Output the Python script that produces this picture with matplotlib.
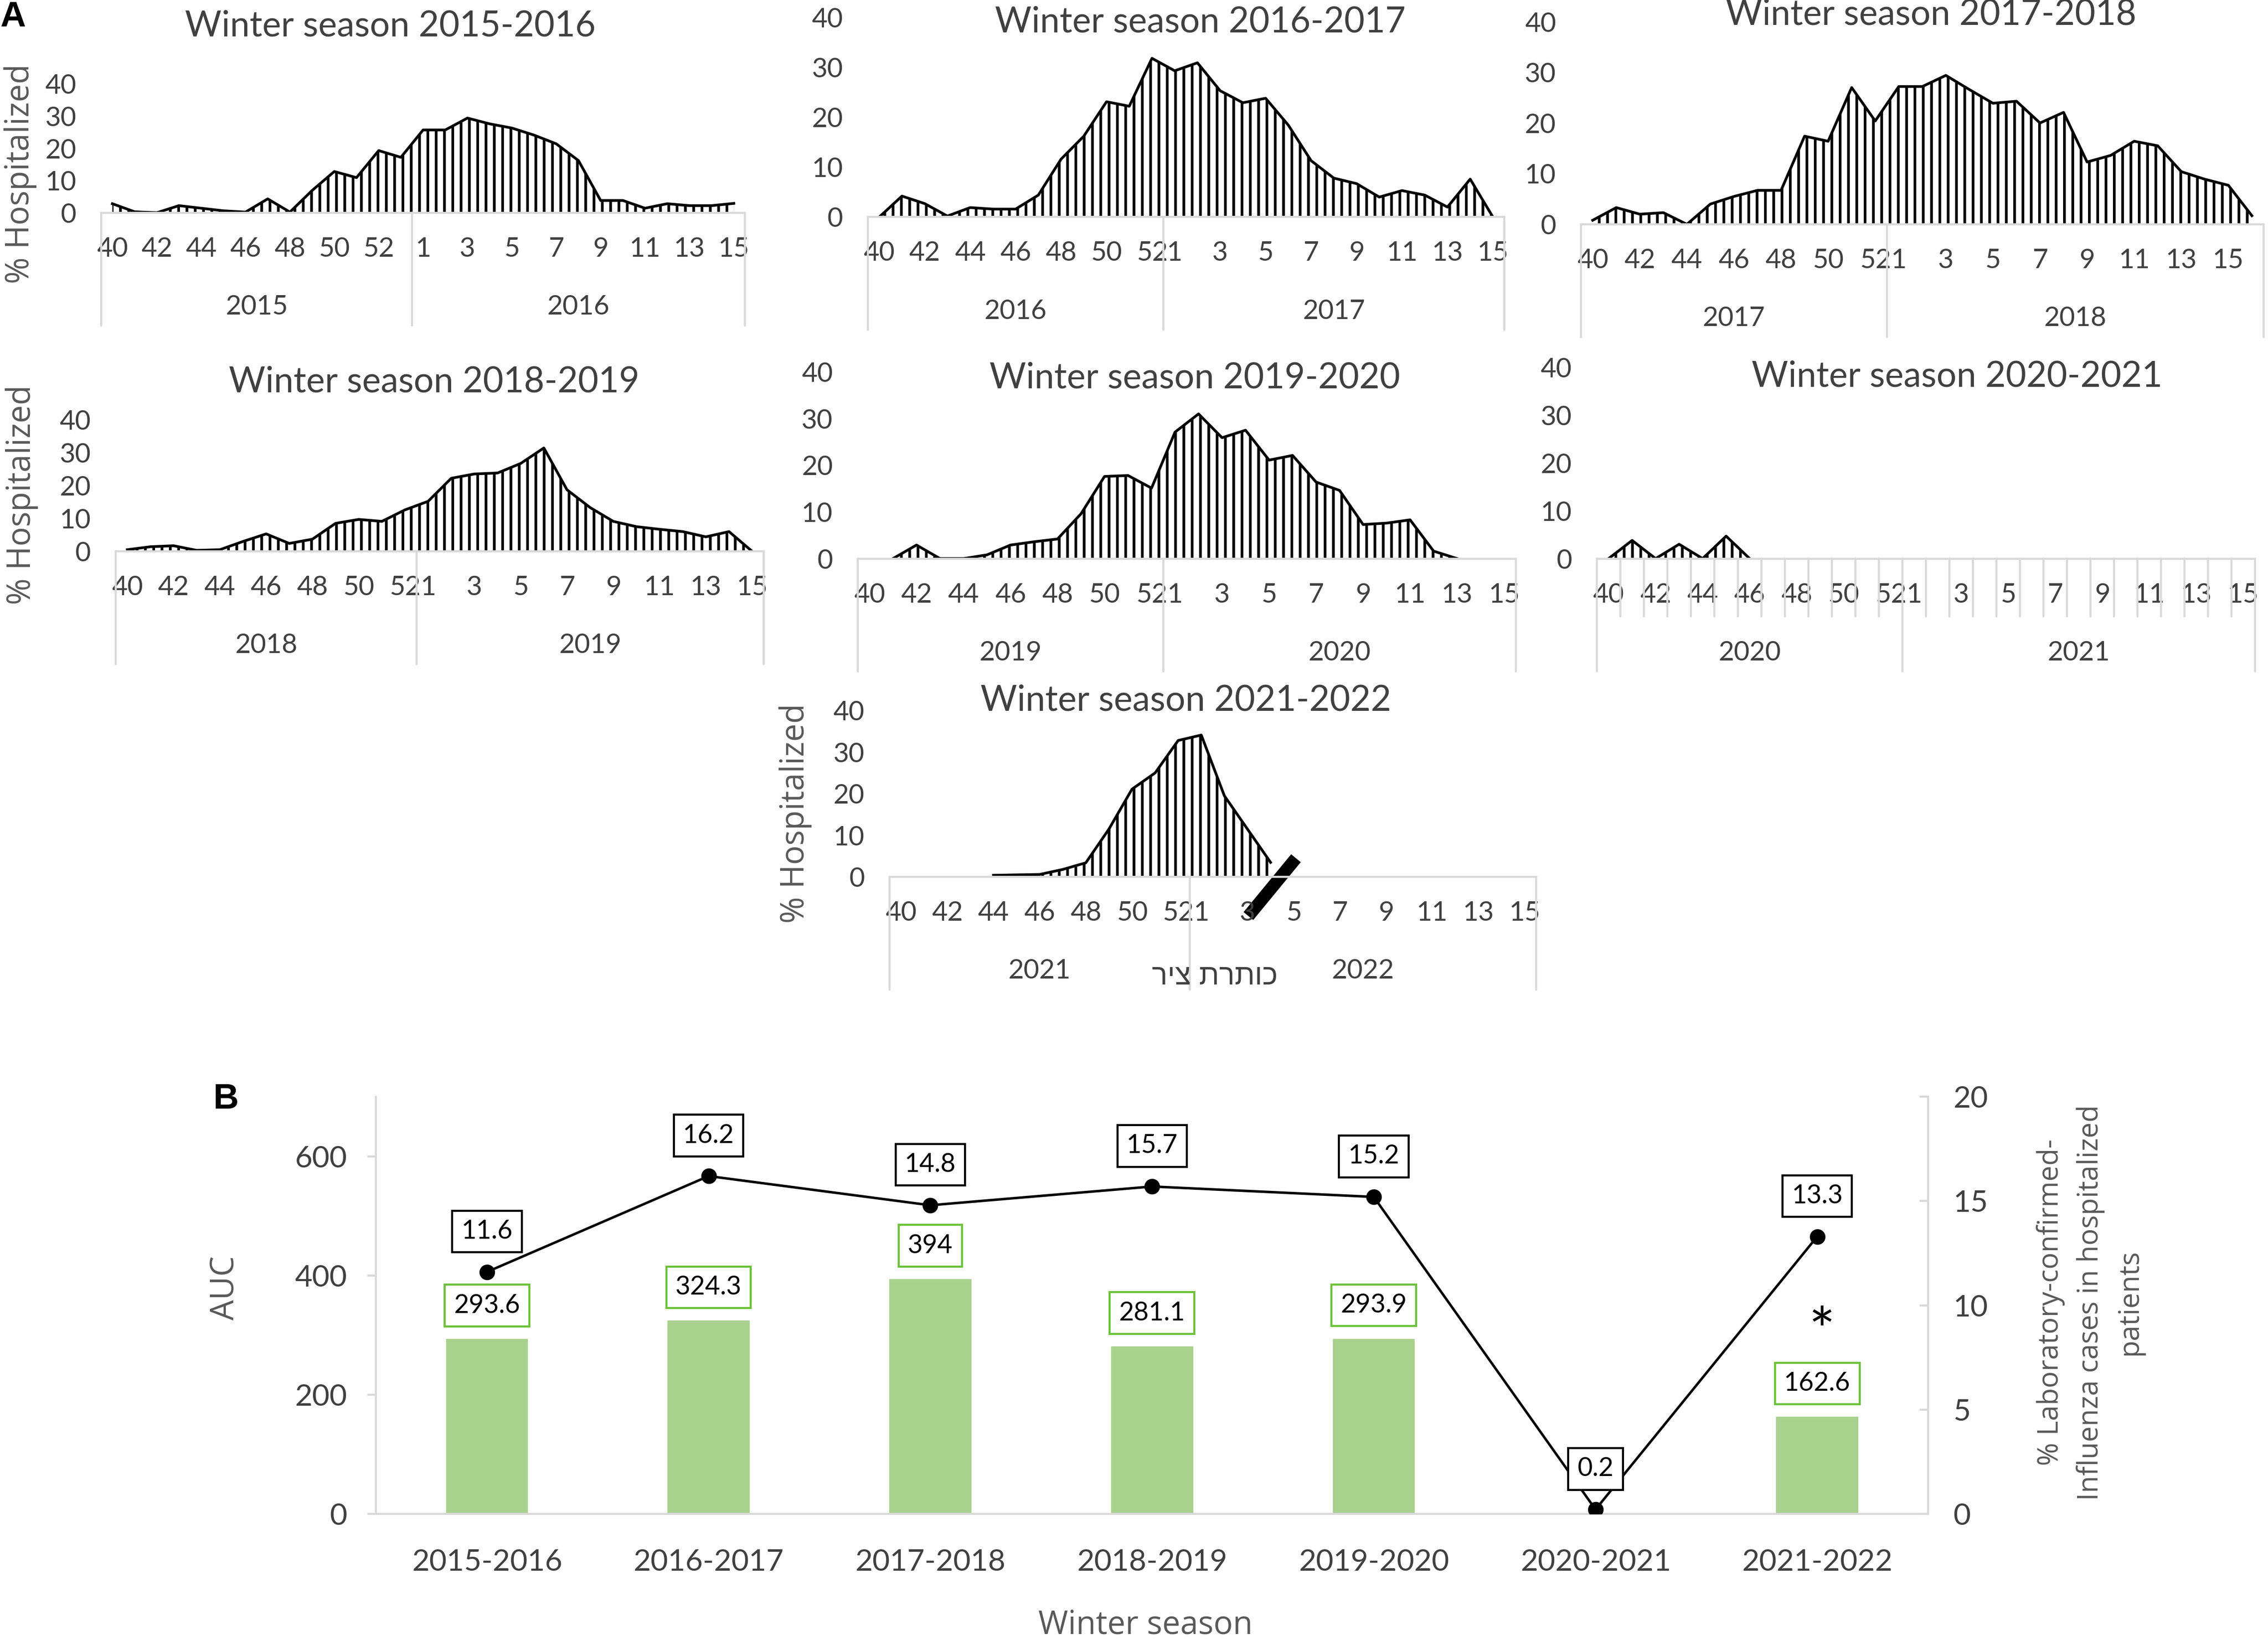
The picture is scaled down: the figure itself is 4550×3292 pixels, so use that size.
import numpy as np
import matplotlib
matplotlib.use("Agg")
import matplotlib.pyplot as plt

# ---- panel A: weekly % hospitalized ----
weeks_2015 = list(range(40, 54))
weeks_2016a = list(range(1, 16))
hosp_2015_16 = [2.8, 0.3, 0.0, 2.2, 1.4, 0.6, 0.2, 4.3, 0.2, 6.9, 12.8, 10.9, 19.3, 17.2,
                25.7, 25.7, 29.4, 27.6, 26.3, 24.1, 21.4, 16.2, 3.8, 3.8, 1.4, 2.8, 2.2, 2.2, 2.9]

weeks_2016 = list(range(40, 53))
weeks_2017a = list(range(1, 16))
hosp_2016_17 = [0.0, 4.2, 2.7, 0.2, 1.9, 1.6, 1.6, 4.4, 11.6, 16.2, 23.1, 22.2, 31.8,
                29.3, 30.9, 25.3, 22.9, 23.8, 18.4, 11.3, 7.8, 6.7, 4.0, 5.3, 4.4, 2.0, 7.6, 0.0]

weeks_2017 = list(range(40, 53))
weeks_2018a = list(range(1, 17))
hosp_2017_18 = [0.8, 3.3, 2.0, 2.3, 0.0, 4.0, 5.5, 6.7, 6.7, 17.4, 16.4, 27.0, 20.4,
                27.2, 27.2, 29.4, 26.6, 23.9, 24.3, 20.0, 22.1, 12.3, 13.6, 16.4, 15.5, 10.4, 8.9, 7.7, 1.7]

weeks_2018 = list(range(40, 53))
weeks_2019a = list(range(1, 16))
hosp_2018_19 = [0.5, 1.4, 1.7, 0.3, 0.5, 3.0, 5.3, 2.4, 3.7, 8.5, 9.7, 9.1, 12.6,
                15.2, 22.2, 23.5, 23.8, 26.7, 31.4, 18.7, 13.3, 9.1, 7.5, 6.7, 6.0, 4.4, 6.0, 0.0]

weeks_2019 = list(range(40, 53))
weeks_2020a = list(range(1, 16))
hosp_2019_20 = [np.nan, 0.0, 2.9, 0.0, 0.0, 0.8, 2.9, 3.6, 4.2, 9.6, 17.6, 17.8, 15.1,
                27.1, 31.0, 25.9, 27.5, 21.1, 22.1, 16.4, 14.6, 7.3, 7.6, 8.3, 1.6, 0.0, np.nan, np.nan]

weeks_2020 = list(range(40, 53))
weeks_2021a = list(range(1, 16))
hosp_2020_21 = [0.0, 3.8, 0.0, 3.0, 0.0, 4.7, 0.0] + [np.nan] * 21

weeks_2021 = list(range(40, 53))
weeks_2022a = list(range(1, 16))
hosp_2021_22 = [np.nan, np.nan, np.nan, np.nan, 0.4, 0.5, 0.6, 1.8, 3.4, 11.5, 21.1, 25.0, 32.8,
                34.1, 19.5, 11.5, 3.5] + [np.nan] * 11

# ---- panel B ----
seasons = ["2015-2016", "2016-2017", "2017-2018", "2018-2019", "2019-2020", "2020-2021", "2021-2022"]
auc = [293.6, 324.3, 394, 281.1, 293.9, np.nan, 162.6]
lab_confirmed = [11.6, 16.2, 14.8, 15.7, 15.2, 0.2, 13.3]

TEXT = "#404040"
AXIS = "#D9D9D9"
BAR = "#A9D18E"
BOXGREEN = "#6CC23A"

plt.rcParams['font.family'] = ['Lato', 'DejaVu Sans']
plt.rcParams['hatch.linewidth'] = 1.3
plt.rcParams['hatch.color'] = 'black'

fig = plt.figure(figsize=(4550 / 300, 3292 / 300), dpi=300)
PX = 4550 / 1568 / 300 * 72   # points per pixel of a 1568 wide layout


def frame(x0, y0, x1, y1):
    return [x0 / 1568, 1 - y1 / 1134, (x1 - x0) / 1568, (y1 - y0) / 1134]


def ftext(x, y, s, **kw):
    fig.text(x / 1568, 1 - y / 1134, s, **kw)


def down(ax, x, dy, s="", **kw):
    return ax.annotate(s, (x, 0), xycoords=('data', 'axes fraction'),
                       xytext=(0, -dy * PX), textcoords='offset points',
                       ha='center', va='center', **kw)


def season(rect, weeks_a, weeks_b, year_a, year_b, values, every_tick=False):
    ax = fig.add_axes(frame(*rect))
    v = np.array(values, dtype=float)
    x = np.arange(len(v))
    n = len(v)
    na = len(weeks_a)
    ax.fill_between(x, 0, v, facecolor='white', edgecolor='black', hatch='|||', linewidth=0)
    ax.plot(x, v, color='black', lw=1.3)
    ax.set_xlim(-0.5, n - 0.5)
    ax.set_ylim(0, 40)
    ax.set_yticks(range(0, 41, 10))
    ax.tick_params(axis='y', length=0, pad=12, labelsize=13, labelcolor=TEXT)
    ax.set_xticks([])
    for s in ['left', 'right', 'top']:
        ax.spines[s].set_visible(False)
    ax.spines['bottom'].set_color(AXIS)
    ax.spines['bottom'].set_linewidth(1.0)
    ax.patch.set_alpha(0)

    ticks = [(i, weeks_a[i]) for i in range(0, na, 2)] + \
            [(na + i, weeks_b[i]) for i in range(0, len(weeks_b), 2)]
    for i, w in ticks:
        down(ax, i, 25, str(w), fontsize=13, color=TEXT)
    down(ax, (na - 1) / 2, 65, year_a, fontsize=13, color=TEXT)
    down(ax, na + (len(weeks_b) - 1) / 2, 65, year_b, fontsize=13, color=TEXT)
    line = dict(arrowstyle='-', color=AXIS, lw=1.0, shrinkA=0, shrinkB=0)
    for xb in (-0.5, na - 0.5, n - 0.5):
        down(ax, xb, 78, arrowprops=line)
    if every_tick:
        for k in range(1, n):
            if k != na:
                down(ax, k - 0.5, 40, arrowprops=line)
    return ax


season((70, 58, 515, 147), weeks_2015, weeks_2016a, "2015", "2016", hosp_2015_16)
season((600, 12, 1040, 150), weeks_2016, weeks_2017a, "2016", "2017", hosp_2016_17)
season((1093, 15, 1565, 155), weeks_2017, weeks_2018a, "2017", "2018", hosp_2017_18)
season((80, 290, 528, 381), weeks_2018, weeks_2019a, "2018", "2019", hosp_2018_19)
season((593, 257, 1048, 386), weeks_2019, weeks_2020a, "2019", "2020", hosp_2019_20)
season((1104, 254, 1559, 386), weeks_2020, weeks_2021a, "2020", "2021", hosp_2020_21, every_tick=True)
ax7 = season((615, 491, 1062, 606), weeks_2021, weeks_2022a, "2021", "2022", hosp_2021_22)

# axis break stroke drawn over the last panel
ax7.plot([15.04, 17.1], [-9.4, 4.5], color='black', lw=6, clip_on=False, solid_capstyle='butt')

titles = [(270, 18, "Winter season 2015-2016"), (830, 15, "Winter season 2016-2017"),
          (1335, 10, "Winter season 2017-2018"), (300, 264, "Winter season 2018-2019"),
          (826, 261, "Winter season 2019-2020"), (1353, 260, "Winter season 2020-2021"),
          (820, 484, "Winter season 2021-2022")]
for tx, ty, t in titles:
    ftext(tx, ty, t, ha='center', va='center', fontsize=17, color=TEXT)

for lx, ly in [(14, 120), (15, 342), (550, 562)]:
    ftext(lx, ly, "% Hospitalized", rotation=90, ha='center', va='center',
          fontsize=15.5, color="#595959", family=['Open Sans', 'DejaVu Sans'])

ftext(840, 675, "ריצ תרתוכ", ha='center', va='center', fontsize=14, color=TEXT,
      family=['Liberation Sans', 'DejaVu Sans'])

ftext(9, 12, "A", ha='center', va='center', fontsize=17, weight='bold',
      family=['Liberation Sans', 'DejaVu Sans'])
ftext(156, 760, "B", ha='center', va='center', fontsize=17, weight='bold',
      family=['Liberation Sans', 'DejaVu Sans'])

# ---- panel B ----
axb = fig.add_axes(frame(260, 758, 1333, 1046))
xb = np.arange(len(seasons))
axb.bar(xb, auc, width=0.37, color=BAR, zorder=2)
axb.set_xlim(-0.5, len(seasons) - 0.5)
axb.set_ylim(0, 700)
axb.set_yticks([0, 200, 400, 600])
axb.set_xticks(xb)
axb.set_xticklabels(seasons)
axb.tick_params(axis='x', length=0, pad=17, labelsize=14.5, labelcolor=TEXT)
axb.tick_params(axis='y', length=4, width=1, color=AXIS, pad=10, labelsize=14.5, labelcolor=TEXT)
for s in ['right', 'top']:
    axb.spines[s].set_visible(False)
for s in ['left', 'bottom']:
    axb.spines[s].set_color(AXIS)
    axb.spines[s].set_linewidth(1.0)

for i, v in enumerate(auc):
    if np.isnan(v):
        continue
    axb.annotate(f"{v:g}", (i, v), xytext=(0, 23 * PX), textcoords='offset points',
                 ha='center', va='center', fontsize=12.5, color='black', zorder=5,
                 bbox=dict(boxstyle='square,pad=0.35', fc='white', ec=BOXGREEN, lw=1.0))

axb.text(6.02, 300, "*", ha='center', va='center', fontsize=30, color='black')

ax2 = axb.twinx()
ax2.set_ylim(0, 20)
ax2.set_yticks([0, 5, 10, 15, 20])
ax2.tick_params(axis='y', direction='in', length=4, width=1, color=AXIS, pad=12,
                labelsize=14.5, labelcolor=TEXT)
for s in ['left', 'top', 'bottom']:
    ax2.spines[s].set_visible(False)
ax2.spines['right'].set_color(AXIS)
ax2.spines['right'].set_linewidth(1.0)
ax2.plot(xb, lab_confirmed, color='black', lw=1.2, marker='o', ms=6.5, zorder=3)
for i, p in enumerate(lab_confirmed):
    ax2.annotate(f"{p:g}", (i, p), xytext=(0, 28 * PX), textcoords='offset points',
                 ha='center', va='center', fontsize=12.5, color='black', zorder=5,
                 bbox=dict(boxstyle='square,pad=0.35', fc='white', ec='black', lw=1.0))

ftext(156, 890, "AUC", rotation=90, ha='center', va='center', fontsize=15.5,
      color="#595959", family=['Open Sans', 'DejaVu Sans'])
ftext(792, 1123, "Winter season", ha='center', va='center', fontsize=15.5,
      color="#595959", family=['Open Sans', 'DejaVu Sans'])
ftext(1445, 900, "% Laboratory-confirmed-\nInfluenza cases in hospitalized\npatients",
      rotation=90, ha='center', va='center', ma='center', fontsize=13.5, linespacing=1.5,
      color="#595959", family=['Open Sans', 'DejaVu Sans'])

fig.savefig("out.png", dpi=300)
